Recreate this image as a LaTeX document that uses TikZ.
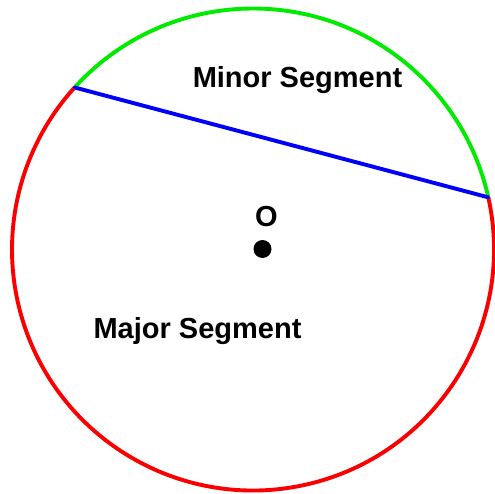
\documentclass[tikz,border=0pt]{standalone}
\usepackage{fontspec}
\setmainfont{Liberation Sans}
\usetikzlibrary{positioning,calc}
\definecolor{minorarc}{RGB}{0,235,0}
\definecolor{majorarc}{RGB}{250,0,0}
\definecolor{chordc}{RGB}{0,0,250}

\begin{document}
\begin{tikzpicture}[x=1pt,y=1pt,
  arcline/.style={line width=3.9pt},
  chord/.style={draw=chordc,line width=3.9pt,line cap=round},
  lbl/.style={font=\bfseries\fontsize{29}{34}\selectfont,inner sep=0pt,anchor=base},
  dot/.style={circle,fill=black,inner sep=0pt,minimum size=18pt}]
\useasboundingbox (0,0) rectangle (495,493);
\coordinate (c) at (253,243.5);
\coordinate (p) at ($(c)+(137.75:241pt)$);
\coordinate (q) at ($(c)+(12.5:241pt)$);
% arcs of the circle
\draw[arcline,draw=minorarc] (p) arc[start angle=137.75,end angle=12.5,radius=241pt];
\draw[arcline,draw=majorarc] (q) arc[start angle=12.5,end angle=-222.25,radius=241pt];
\draw[chord] (p) -- (q);
\node[dot] (o) at (262.5,244) {};
\node[lbl] (olbl) at (266.5,266) {O};
\node[lbl] (minor) at (297.5,405) {Minor Segment};
\node[lbl] (major) at (197.5,155) {Major Segment};
\end{tikzpicture}
\end{document}
